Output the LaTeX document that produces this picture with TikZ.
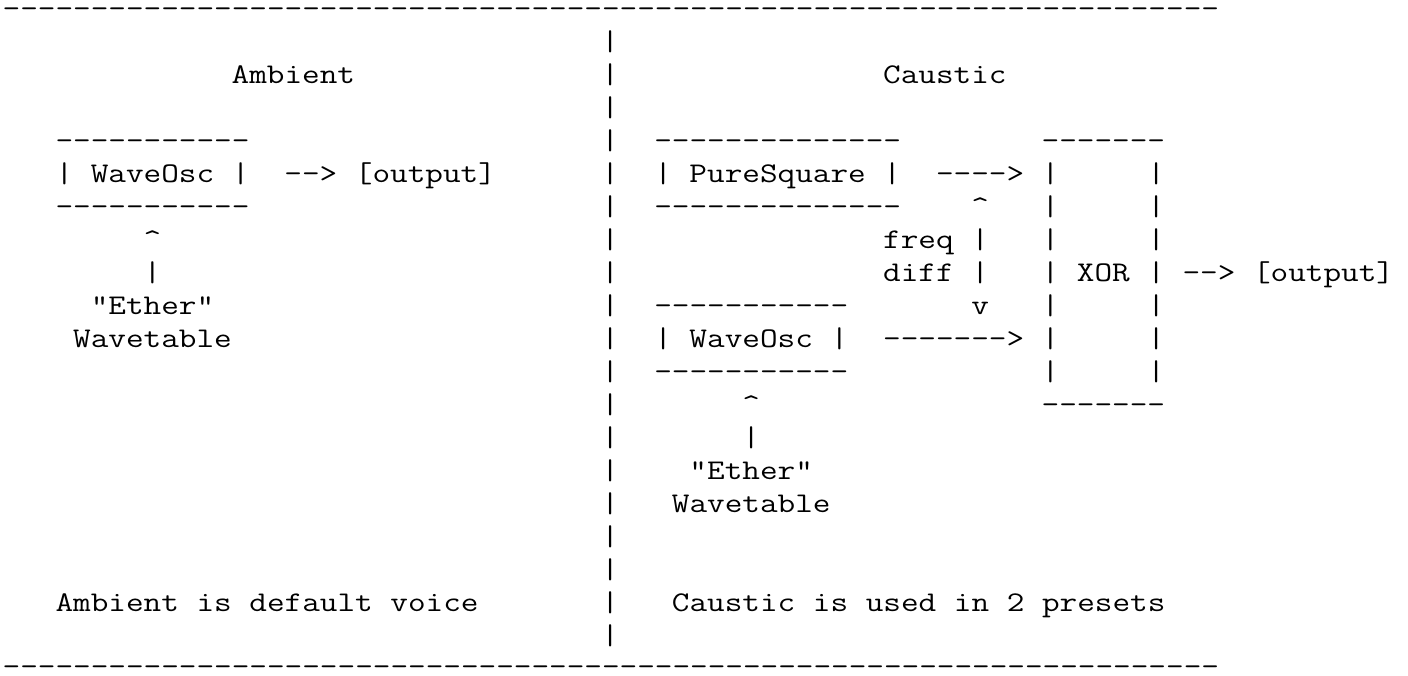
\documentclass[tikz,border=0pt]{standalone}
\usepackage{fontspec}
\setmonofont{Latin Modern Mono}[FakeStretch=1.201, Ligatures=TeXOff]
\tikzset{
  ascii/.style={anchor=base west, inner sep=0pt, outer sep=0pt,
    font=\fontsize{28.5}{33}\selectfont\ttfamily},
  rule/.style={ascii, text height=0.3em, text depth=0pt}
}

\begin{document}
\begin{tikzpicture}[x=17.61pt, y=-33.05pt]

\useasboundingbox (-2.7pt,17pt) rectangle ++(1408pt,-675pt);

% Frame
\node[rule] (ruletop) at (0,0) {---------------------------------------------------------------------};
\node[rule] (rulebot) at (0,19.92) {---------------------------------------------------------------------};
\foreach \r in {1,...,19}
  \node[ascii] (sep\r) at (34,\r) {|};

% Titles
\node[ascii] (ambtitle) at (13,2) {Ambient};
\node[ascii] (caustitle) at (50,2) {Caustic};

% Ambient voice
\node[ascii] (ambtop) at (3,4) {-----------};
\node[ascii] (ambosc) at (3,5) {| WaveOsc |};
\node[ascii] (ambbot) at (3,6) {-----------};
\node[ascii] (ambout) at (16,5) {--> [output]};
\node[ascii] (ambtip) at (8,7) {\textasciicircum};
\node[ascii] (ambstem) at (8,8) {|};
\node[ascii] (ambether) at (5,9) {"Ether"};
\node[ascii] (ambtable) at (4,10) {Wavetable};

% Caustic voice
\node[ascii] (sqtop) at (37,4) {--------------};
\node[ascii] (sq) at (37,5) {| PureSquare |};
\node[ascii] (sqbot) at (37,6) {--------------};
\node[ascii] (sqarrow) at (53,5) {---->};
\node[ascii] (fdtip) at (55,6) {\textasciicircum};
\node[ascii] (freq) at (50,7) {freq |};
\node[ascii] (diff) at (50,8) {diff |};
\node[ascii] (fdend) at (55,9) {v};
\node[ascii] (osctop) at (37,9) {-----------};
\node[ascii] (osc) at (37,10) {| WaveOsc |};
\node[ascii] (oscbot) at (37,11) {-----------};
\node[ascii] (oscarrow) at (50,10) {------->};
\node[ascii] (osctip) at (42,12) {\textasciicircum};
\node[ascii] (oscstem) at (42,13) {|};
\node[ascii] (oscether) at (39,14) {"Ether"};
\node[ascii] (osctable) at (38,15) {Wavetable};

% XOR box
\node[ascii] (xortop) at (59,4) {-------};
\node[ascii] (xorbot) at (59,12) {-------};
\foreach \r in {5,...,11} {
  \node[ascii] (xorl\r) at (59,\r) {|};
  \node[ascii] (xorr\r) at (65,\r) {|};
}
\node[ascii] (xor) at (61,8) {XOR};
\node[ascii] (xorout) at (67,8) {--> [output]};

% Notes
\node[ascii] (ambnote) at (3,18) {Ambient is default voice};
\node[ascii] (causnote) at (38,18) {Caustic is used in 2 presets};

\end{tikzpicture}
\end{document}
